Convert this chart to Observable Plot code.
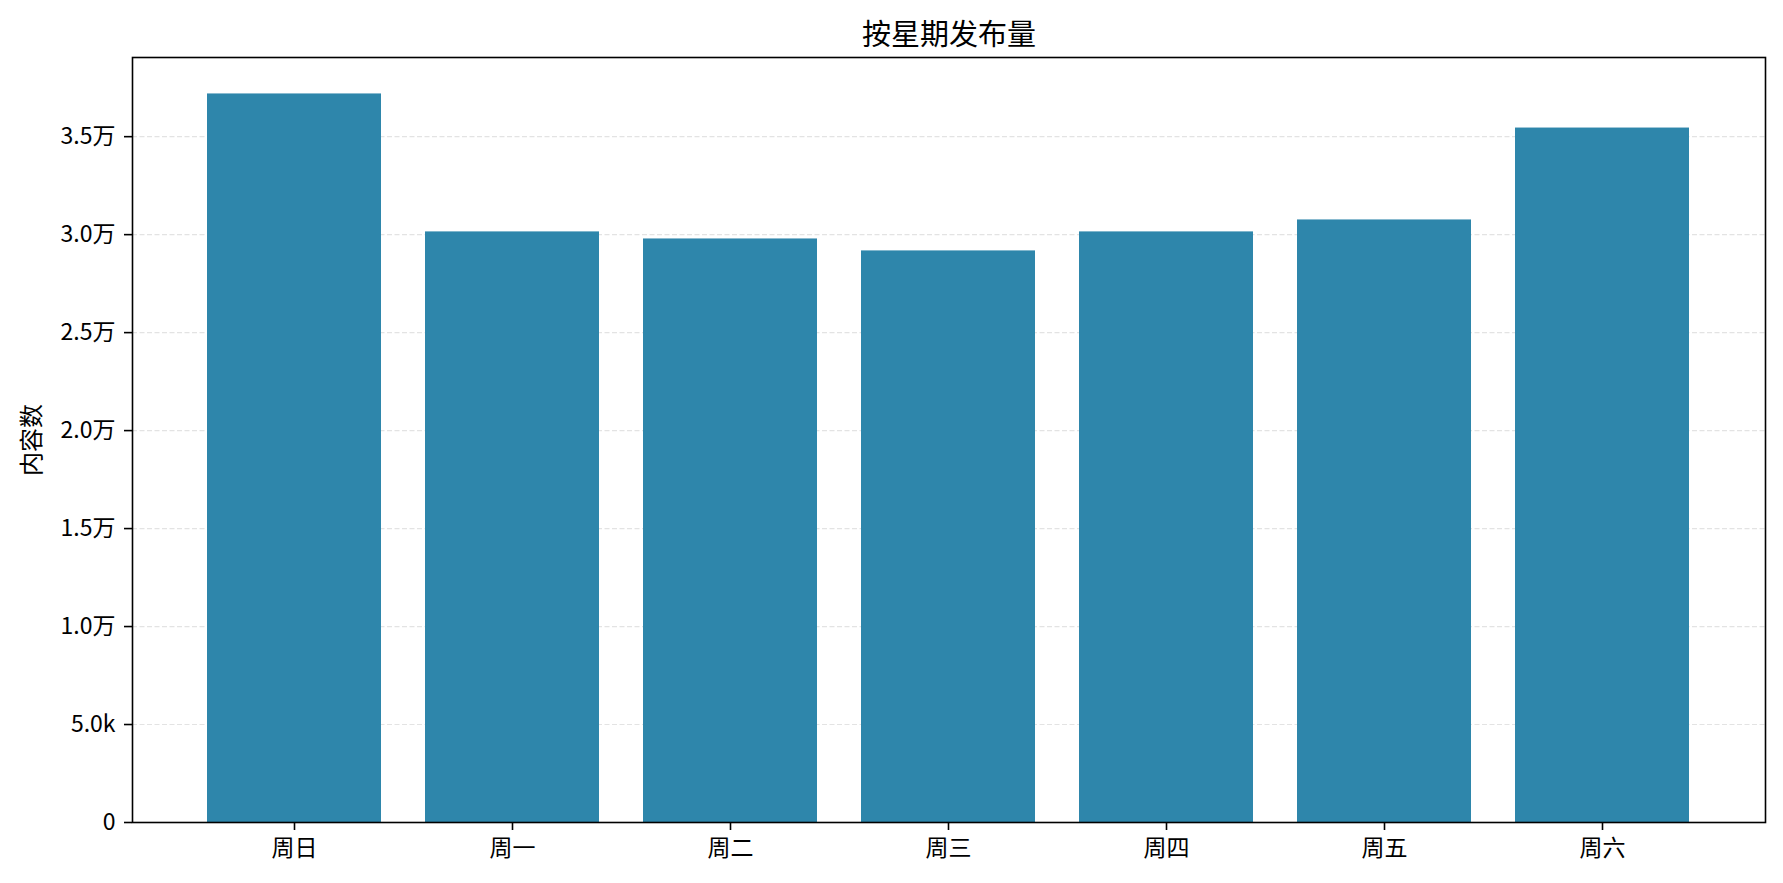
<!DOCTYPE html>
<html>
<head>
<meta charset="utf-8">
<script src="https://cdn.jsdelivr.net/npm/d3@7"></script>
<script src="https://cdn.jsdelivr.net/npm/@observablehq/plot@0.6"></script>
<style>
  html, body { margin: 0; padding: 0; background: white; }
  svg { display: block; }
</style>
</head>
<body>
<script>
const days = ["周日", "周一", "周二", "周三", "周四", "周五", "周六"];
const counts = [37180, 30140, 29780, 29170, 30140, 30750, 35440];
const yTicks = [0, 5000, 10000, 15000, 20000, 25000, 30000, 35000];
const yMax = 39040;
const titleText = "按星期发布量";
const yLabelText = "内容数";
const barColor = "#2E86AB";

const data = days.map((d, i) => ({day: d, count: counts[i]}));

function fmt(v) {
  if (v === 0) return "0";
  if (v < 10000) return (v / 1000).toFixed(1) + "k";
  return (v / 10000).toFixed(1) + "万";
}

const chart = Plot.plot({
  width: 1783,
  height: 883,
  marginLeft: 132,
  marginRight: 18,
  marginTop: 57,
  marginBottom: 61,
  style: {fontFamily: "'Noto Sans CJK SC', sans-serif", fontSize: "23px", color: "black", background: "white"},
  x: {domain: days, paddingInner: 0.2, paddingOuter: 0.337},
  y: {domain: [0, yMax]},
  marks: [
    Plot.gridY(yTicks, {stroke: "#e3e3e3", strokeOpacity: 1, strokeDasharray: "5,2.5", strokeWidth: 1.2}),
    Plot.barY(data, {x: "day", y: "count", fill: barColor}),
    Plot.frame({stroke: "black", strokeWidth: 1.6}),
    Plot.axisY({ticks: yTicks, tickFormat: fmt, tickSize: 8, tickPadding: 9, label: null, stroke: "black", strokeWidth: 1.6, fontSize: 23}),
    Plot.axisX({tickSize: 8, tickPadding: 9, label: null, stroke: "black", strokeWidth: 1.6, fontSize: 23}),
    Plot.text([titleText], {frameAnchor: "top", dy: -33, fontSize: 29, fill: "black"}),
    Plot.text([yLabelText], {frameAnchor: "left", dx: -100, rotate: -90, textAnchor: "middle", fontSize: 24, fill: "black"})
  ]
});
document.body.appendChild(chart);
</script>
</body>
</html>
